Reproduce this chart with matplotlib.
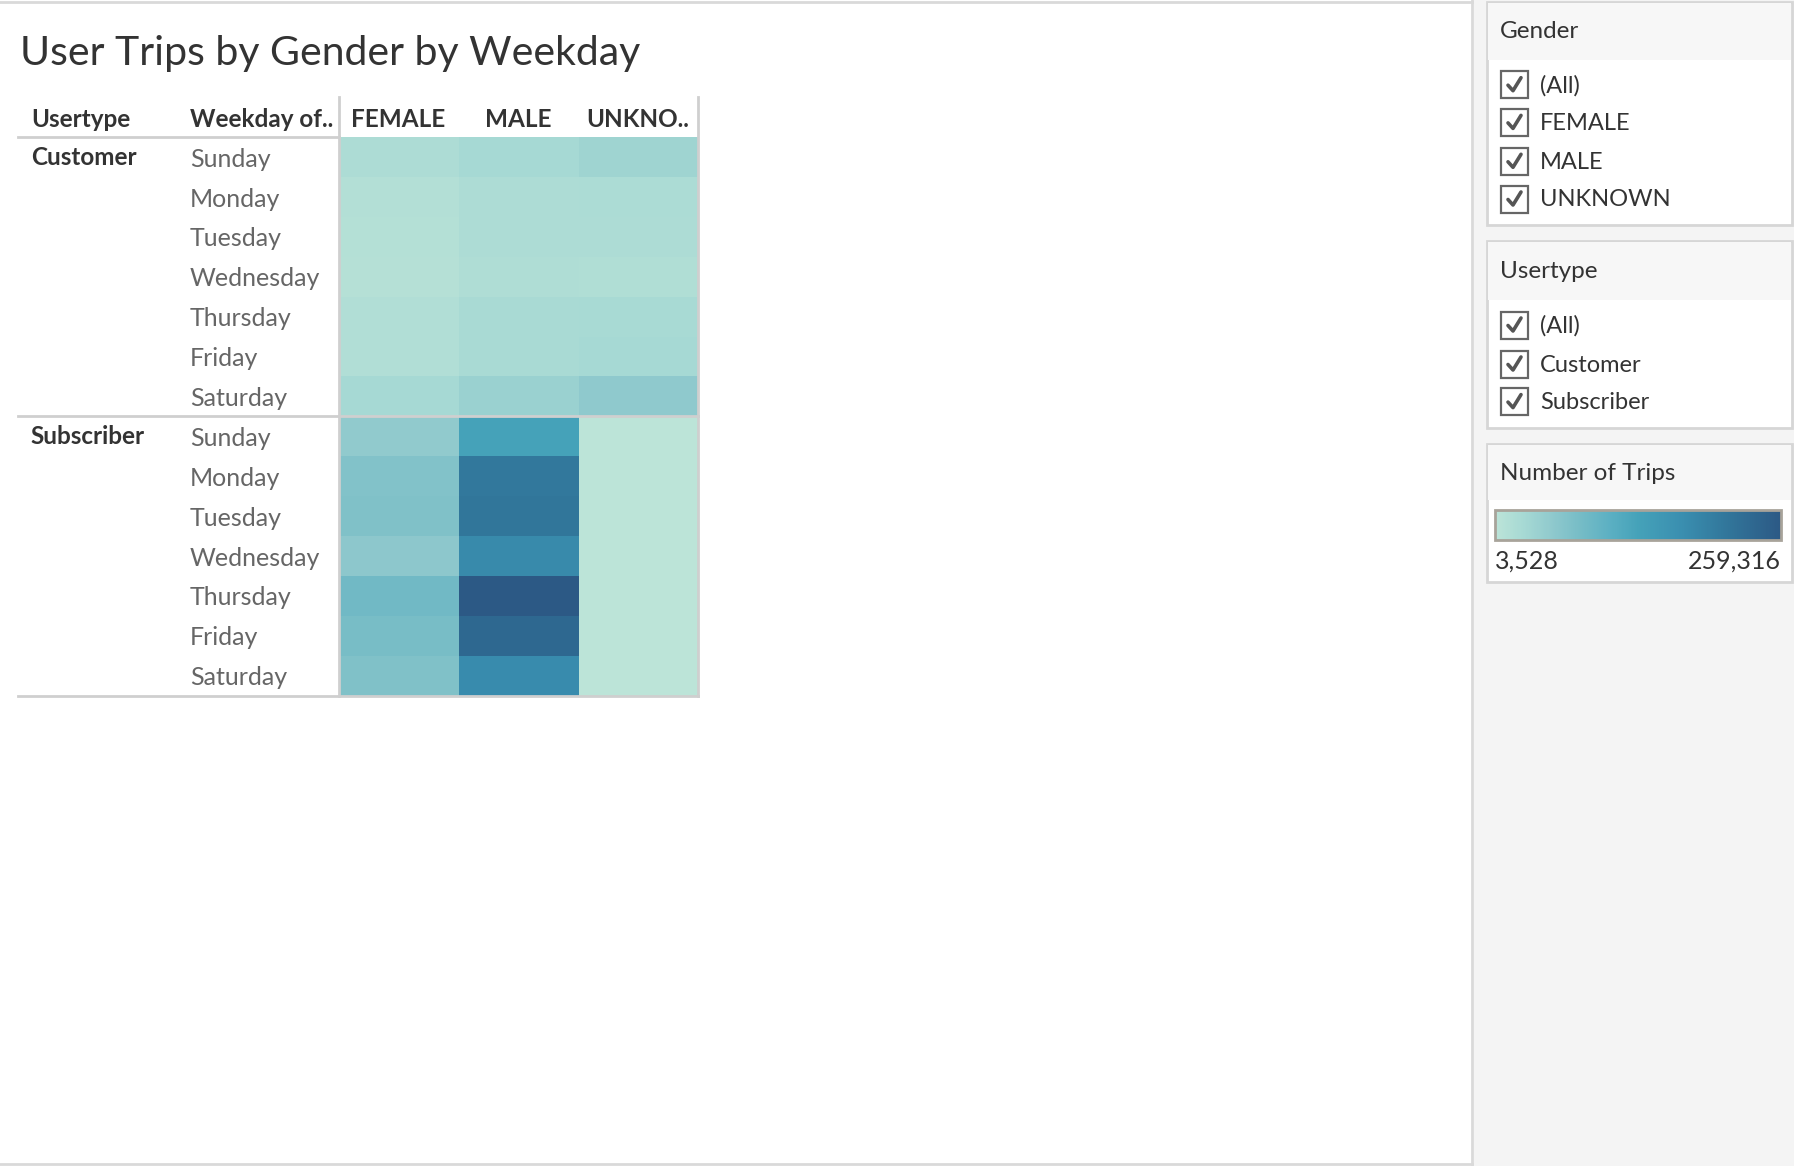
import matplotlib.pyplot as plt
import numpy as np
from matplotlib.colors import LinearSegmentedColormap, Normalize
from matplotlib.colorbar import ColorbarBase
from matplotlib.patches import Rectangle

# data
usertypes = ["Customer", "Subscriber"]
weekdays = ["Sunday", "Monday", "Tuesday", "Wednesday", "Thursday", "Friday", "Saturday"]
genders = ["FEMALE", "MALE", "UNKNOWN"]
col_labels = ["FEMALE", "MALE", "UNKNO.."]

customer_female = [21400, 13800, 13500, 11200, 16300, 16100, 29100]
customer_male = [29200, 21500, 21000, 17600, 25300, 26500, 41900]
customer_unknown = [36800, 21600, 21200, 17500, 26700, 29400, 54700]
subscriber_female = [52100, 67500, 70000, 57200, 85400, 77700, 70200]
subscriber_male = [131400, 208100, 210700, 177500, 259316, 233700, 174900]
subscriber_unknown = [4100, 3900, 3800, 3528, 3700, 3600, 4000]

vmin, vmax = 3528, 259316

# Tableau "Blue-Teal" like ramp
ramp_pos = [0.0, 0.1, 0.2, 0.3, 0.4, 0.5, 0.65, 0.8, 1.0]
ramp_col = ["#bce4d8", "#a6d9d4", "#8fc9cd", "#76bcc6", "#5cb0c3",
            "#45a2b9", "#3a8fb0", "#32789c", "#2c5985"]
cmap = LinearSegmentedColormap.from_list("blueteal", list(zip(ramp_pos, ramp_col)))
norm = Normalize(vmin, vmax)

W, H = 1794, 1166
FONT = "Lato"
GRID = "#cfcfcf"


def fx(x):
    return x / W


def fy(y):
    return 1 - y / H


def main():
    plt.rcParams["font.family"] = [FONT, "DejaVu Sans"]
    fig = plt.figure(figsize=(W / 100, H / 100), dpi=100)
    fig.patch.set_facecolor("white")

    # background layer in pixel coordinates (dashboard chrome)
    bg = fig.add_axes([0, 0, 1, 1], zorder=0)
    bg.set_xlim(0, W)
    bg.set_ylim(H, 0)
    bg.set_axis_off()
    bg.add_patch(Rectangle((1474, 0), W - 1474, H, color="#f4f4f4", lw=0))
    bg.plot([0, 1472], [1.5, 1.5], color="#d9d9d9", lw=2)
    bg.plot([1472, 1472], [0, 1164], color="#d9d9d9", lw=2)
    bg.plot([0, 1472], [1163.5, 1163.5], color="#d9d9d9", lw=2)

    # title
    fig.text(fx(20), fy(53), "User Trips by Gender by Weekday", fontsize=29.5,
             fontweight="normal", color="#333333", va="center", ha="left")

    # heatmap
    data = np.array([
        list(r) for r in zip(customer_female, customer_male, customer_unknown)
    ] + [
        list(r) for r in zip(subscriber_female, subscriber_male, subscriber_unknown)
    ], dtype=float)
    left, top, right, bottom = 338.7, 137.3, 697.9, 695.6
    ax = fig.add_axes([fx(left), fy(bottom), (right - left) / W, (bottom - top) / H], zorder=2)
    ax.imshow(data, cmap=cmap, norm=norm, aspect="auto", extent=(0, 3, 14, 0),
              interpolation="nearest")
    ax.set_xlim(0, 3)
    ax.set_ylim(14, 0)
    ax.set_axis_off()

    col_w = right - left

    def axx(px):
        return (px - left) / col_w * 3

    lbl_left = axx(18.3)
    # grid lines
    ax.plot([lbl_left, 0], [0, 0], color=GRID, lw=2, clip_on=False)
    ax.plot([lbl_left, 3], [7, 7], color=GRID, lw=2, clip_on=False)
    ax.plot([lbl_left, 3], [14, 14], color=GRID, lw=2, clip_on=False)
    ax.plot([0, 0], [-1.0, 14], color=GRID, lw=2, clip_on=False)
    ax.plot([3, 3], [-1.0, 14], color=GRID, lw=2, clip_on=False)

    # headers
    hy = -0.45
    ax.text(axx(30.9), hy, "Usertype", fontsize=17.5, fontweight="bold",
            color="#333333", va="center", ha="left")
    ax.text(axx(190), hy, "Weekday of..", fontsize=17.5, fontweight="bold",
            color="#333333", va="center", ha="left")
    for i, lab in enumerate(col_labels):
        ax.text(i + 0.5, hy, lab, fontsize=17.5, fontweight="bold",
                color="#333333", va="center", ha="center")

    for g, ut in enumerate(usertypes):
        ax.text(axx(30.9), g * 7 + 0.5, ut, fontsize=17.5, fontweight="bold",
                color="#333333", va="center", ha="left")
        for d, wd in enumerate(weekdays):
            ax.text(axx(190), g * 7 + d + 0.55, wd, fontsize=18,
                    color="#666666", va="center", ha="left")

    # filter cards on the right
    def card(y0, y1, band_bottom, title, items):
        bg.add_patch(Rectangle((1487, y0), 305, y1 - y0, facecolor="white",
                               edgecolor="#d6d6d6", lw=2))
        bg.add_patch(Rectangle((1488, y0 + 1), 303, band_bottom - y0 - 1,
                               facecolor="#f7f7f7", lw=0))
        bg.text(1500, (y0 + band_bottom) / 2 + 1, title, fontsize=17.5,
                color="#333333", va="center", ha="left")
        for yc, name in items:
            bg.add_patch(Rectangle((1501, yc - 13.5), 27, 27, facecolor="white",
                                   edgecolor="#666666", lw=1.6))
            bg.plot([1508, 1513, 1521], [yc + 0.5, yc + 6, yc - 7],
                    color="#555555", lw=2.6, solid_capstyle="round",
                    solid_joinstyle="round")
            bg.text(1540, yc + 1, name, fontsize=17, color="#333333",
                    va="center", ha="left")

    card(2, 225, 59.5, "Gender",
         list(zip([84.7, 122.4, 161.3, 199.0], ["(All)"] + genders)))
    card(241, 428, 300, "Usertype",
         list(zip([325.0, 364.0, 401.6], ["(All)"] + usertypes)))
    card(444, 582, 500, "Number of Trips", [])

    cax = fig.add_axes([fx(1495), fy(540), 286 / W, 30 / H], zorder=3)
    cb = ColorbarBase(cax, cmap=cmap, norm=norm, orientation="horizontal")
    cb.set_ticks([])
    cb.outline.set_edgecolor("#a8a39a")
    cb.outline.set_linewidth(2)
    bg.text(1495, 561, f"{vmin:,}", fontsize=18, color="#333333",
            va="center", ha="left")
    bg.text(1781, 561, f"{vmax:,}", fontsize=18, color="#333333",
            va="center", ha="right")

    fig.savefig("out.png", dpi=100)


if __name__ == "__main__":
    main()
